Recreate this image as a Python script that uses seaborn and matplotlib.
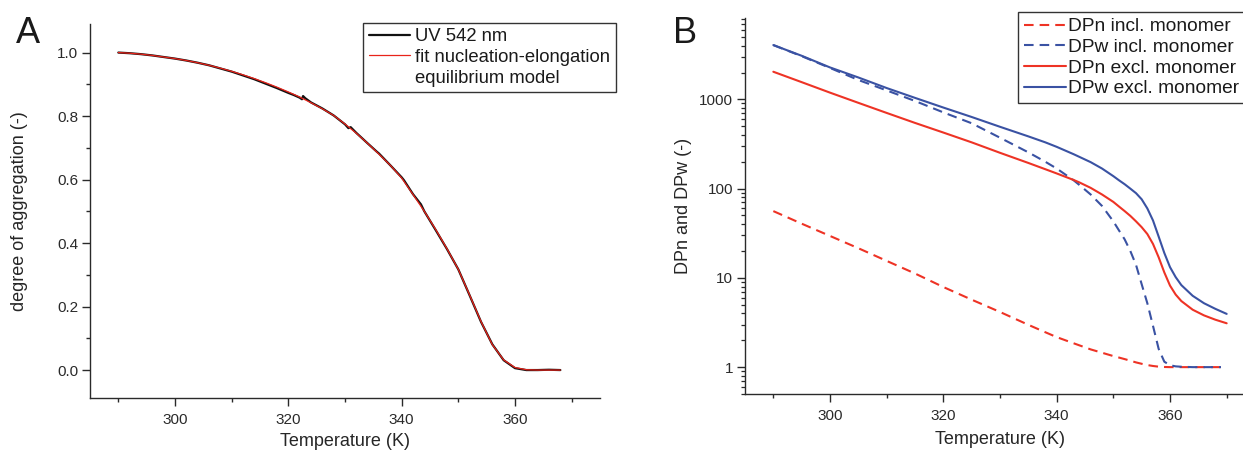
import numpy as np
import pandas as pd
import matplotlib
matplotlib.use("Agg")
import matplotlib.pyplot as plt
import seaborn as sns
from matplotlib.lines import Line2D
from matplotlib.ticker import FixedLocator, LogLocator, NullFormatter, FormatStrFormatter, FixedFormatter

# ---------------- data: panel A ----------------
uv_T = [290, 292, 294, 296, 298, 300, 302, 304, 306, 308, 310, 312, 314, 316, 318, 320,
        321, 322, 322.4, 322.6, 323, 324, 326, 328, 330, 330.6, 331, 332, 334, 335.6, 336,
        338, 340, 340.4, 342, 343.4, 344, 346, 348, 350, 352, 354, 356, 358, 360, 362, 364,
        366, 368]
uv_y = [1.000, 0.998, 0.995, 0.991, 0.986, 0.981, 0.975, 0.968, 0.960, 0.950, 0.940, 0.928,
        0.916, 0.902, 0.888, 0.873, 0.866, 0.858, 0.853, 0.863, 0.856, 0.843, 0.824, 0.802,
        0.774, 0.762, 0.765, 0.747, 0.714, 0.688, 0.682, 0.645, 0.607, 0.598, 0.554, 0.522,
        0.500, 0.441, 0.381, 0.317, 0.235, 0.152, 0.081, 0.031, 0.006, 0.000, 0.000, 0.001,
        0.000]

fit_T = [290, 292, 294, 296, 298, 300, 302, 304, 306, 308, 310, 312, 314, 316, 318, 320,
         322, 324, 326, 328, 330, 332, 334, 336, 338, 340, 342, 344, 346, 348, 350, 352,
         354, 356, 358, 360, 362, 364, 366, 368]
fit_y = [1.000, 0.998, 0.995, 0.991, 0.986, 0.981, 0.975, 0.968, 0.960, 0.951, 0.941, 0.930,
         0.918, 0.905, 0.891, 0.876, 0.860, 0.842, 0.823, 0.802, 0.775, 0.746, 0.714, 0.680,
         0.645, 0.605, 0.553, 0.500, 0.443, 0.382, 0.317, 0.236, 0.153, 0.080, 0.032, 0.008,
         0.001, 0.000, 0.000, 0.000]

# ---------------- data: panel B ----------------
T_excl = [290, 295, 300, 305, 310, 315, 320, 325, 330, 335, 338, 340, 343, 344, 346, 348, 350,
          351, 352, 353, 354, 355, 356, 357, 358, 359, 360, 361, 362, 364, 366, 368, 370]
T_incl = [290, 295, 300, 305, 310, 315, 320, 325, 330, 335, 338, 340, 343, 344, 346, 348, 350,
          351, 352, 353, 354, 355, 356, 357, 358, 359, 360, 361, 362, 364, 366, 368, 369]

dpw_excl = [4060, 3080, 2280, 1760, 1340, 1040, 810, 635, 493, 385, 330, 294, 243, 227, 198,
            168, 138, 124, 112, 100, 89, 76, 60, 44, 29, 19, 13.2, 10.2, 8.3, 6.3, 5.2, 4.5, 3.95]
dpn_excl = [2040, 1560, 1190, 915, 705, 545, 425, 330, 252, 194, 165, 148, 125, 117.5, 102,
            86, 71, 63, 56, 49.5, 43, 37, 31, 24, 17, 11.5, 8.2, 6.5, 5.5, 4.4, 3.8, 3.4, 3.1]
dpw_incl = [4060, 3050, 2250, 1650, 1260, 960, 715, 540, 372, 255, 200, 168, 124, 110, 86,
            64, 43, 34, 27, 20, 14, 8.5, 5.2, 2.9, 1.6, 1.15, 1.05, 1.02, 1.01, 1.0, 1.0, 1.0, 1.0]
dpn_incl = [56, 40.5, 29.5, 21.5, 15.5, 11.2, 7.9, 5.7, 4.15, 2.98, 2.46, 2.17, 1.85, 1.755,
            1.58, 1.45, 1.33, 1.28, 1.23, 1.18, 1.13, 1.09, 1.055, 1.03, 1.012, 1.004, 1.0, 1.0,
            1.0, 1.0, 1.0, 1.0, 1.0]

x_major = [300, 320, 340, 360]
x_minor = [290, 310, 330, 350, 370]
log_ticks = [1, 10, 100, 1000]
log_labels = ["1", "10", "100", "1000"]

RED = "#EE3325"
BLUE = "#3A52A3"
AXC = "#2a2a2a"

sns.set_style("ticks")
plt.rcParams["font.family"] = ["Liberation Sans", "DejaVu Sans"]
plt.rcParams["axes.edgecolor"] = AXC
plt.rcParams["xtick.color"] = AXC
plt.rcParams["ytick.color"] = AXC
plt.rcParams["text.color"] = "#1a1a1a"

W, H = 1243, 455
fig = plt.figure(figsize=(W / 100, H / 100), dpi=100)

axA = fig.add_axes([90 / W, 1 - 398 / H, 510 / W, 374 / H])
axB = fig.add_axes([745 / W, 1 - 394 / H, 510 / W, 375.7 / H])

# ---- panel A
dfA1 = pd.DataFrame({"T": uv_T, "y": uv_y})
dfA2 = pd.DataFrame({"T": fit_T, "y": fit_y})
sns.lineplot(data=dfA1, x="T", y="y", ax=axA, color="#111111", lw=1.6, estimator=None, sort=False)
sns.lineplot(data=dfA2, x="T", y="y", ax=axA, color="#E8231A", lw=0.9, estimator=None, sort=False)

# ---- panel B
dash = (0, (4.6, 2.9))
sns.lineplot(x=T_incl, y=dpn_incl, ax=axB, color=RED, lw=1.5, linestyle=dash, estimator=None, sort=False)
sns.lineplot(x=T_incl, y=dpw_incl, ax=axB, color=BLUE, lw=1.5, linestyle=dash, estimator=None, sort=False)
sns.lineplot(x=T_excl, y=dpn_excl, ax=axB, color=RED, lw=1.5, estimator=None, sort=False)
sns.lineplot(x=T_excl, y=dpw_excl, ax=axB, color=BLUE, lw=1.5, estimator=None, sort=False)

for ax in (axA, axB):
    sns.despine(ax=ax)
    ax.spines["left"].set_linewidth(1.0)
    ax.spines["bottom"].set_linewidth(1.0)
    ax.set_xlim(285, 375)
    ax.xaxis.set_major_locator(FixedLocator(x_major))
    ax.xaxis.set_minor_locator(FixedLocator(x_minor))
    ax.tick_params(axis="both", which="major", direction="out", length=5.5, width=1.0,
                   labelsize=11, pad=3)
    ax.tick_params(axis="x", which="major", pad=5.5)
    ax.tick_params(axis="x", which="minor", direction="out", length=3, width=1.0)
    ax.set_xlabel("Temperature (K)", fontsize=13)
    ax.grid(False)

axA.set_ylim(-0.088, 1.09)
axA.yaxis.set_major_locator(FixedLocator([0.0, 0.2, 0.4, 0.6, 0.8, 1.0]))
axA.yaxis.set_minor_locator(FixedLocator([0.1, 0.3, 0.5, 0.7, 0.9]))
axA.yaxis.set_major_formatter(FormatStrFormatter("%.1f"))
axA.tick_params(axis="y", which="minor", direction="out", length=3, width=1.0)
axA.set_ylabel("degree of aggregation (-)", fontsize=13)
axA.yaxis.set_label_coords((28 - 90) / 510, 0.5)
axA.xaxis.set_label_coords(0.5, -(433 - 398) / 374)

axB.set_yscale("log")
axB.set_ylim(0.5, 8100)
axB.yaxis.set_major_locator(FixedLocator(log_ticks))
axB.yaxis.set_major_formatter(FixedFormatter(log_labels))
axB.yaxis.set_minor_locator(LogLocator(base=10, subs=np.arange(2, 10)))
axB.yaxis.set_minor_formatter(NullFormatter())
axB.tick_params(axis="y", which="minor", direction="out", length=2.6, width=0.9)
axB.set_ylabel("DPn and DPw (-)", fontsize=13)
axB.yaxis.set_label_coords((692 - 745) / 510, 0.5)
axB.xaxis.set_label_coords(0.5, -(431 - 394) / 375.7)

# ---- legends
hA = [Line2D([], [], color="#111111", lw=1.6),
      Line2D([], [], color="#E8231A", lw=0.9),
      Line2D([], [], color="none", lw=0)]
legA = fig.legend(hA, ["UV 542 nm", "fit nucleation-elongation", "equilibrium model"],
                  loc="upper left", bbox_to_anchor=(363 / W, 1 - 22.7 / H), fontsize=13.3,
                  frameon=True, fancybox=False, edgecolor="#333333", framealpha=1,
                  borderpad=0.3, labelspacing=0.2, handlelength=2.25, handletextpad=0.27,
                  borderaxespad=0)
legA.get_frame().set_linewidth(1.0)

hB = [Line2D([], [], color=RED, lw=1.5, linestyle=dash),
      Line2D([], [], color=BLUE, lw=1.5, linestyle=dash),
      Line2D([], [], color=RED, lw=1.5),
      Line2D([], [], color=BLUE, lw=1.5)]
legB = fig.legend(hB, ["DPn incl. monomer", "DPw incl. monomer", "DPn excl. monomer", "DPw excl. monomer"],
                  loc="upper left", bbox_to_anchor=(1018 / W, 1 - 12.3 / H), fontsize=13.8,
                  frameon=True, fancybox=False, edgecolor="#333333", framealpha=1,
                  borderpad=0.3, labelspacing=0.17, handlelength=2.2, handletextpad=0.1,
                  borderaxespad=0)
legB.get_frame().set_linewidth(1.0)

fig.text(16 / W, 1 - 16 / H, "A", fontsize=26, ha="left", va="top")
fig.text(673 / W, 1 - 16 / H, "B", fontsize=26, ha="left", va="top")

fig.savefig("out.png", dpi=100)
